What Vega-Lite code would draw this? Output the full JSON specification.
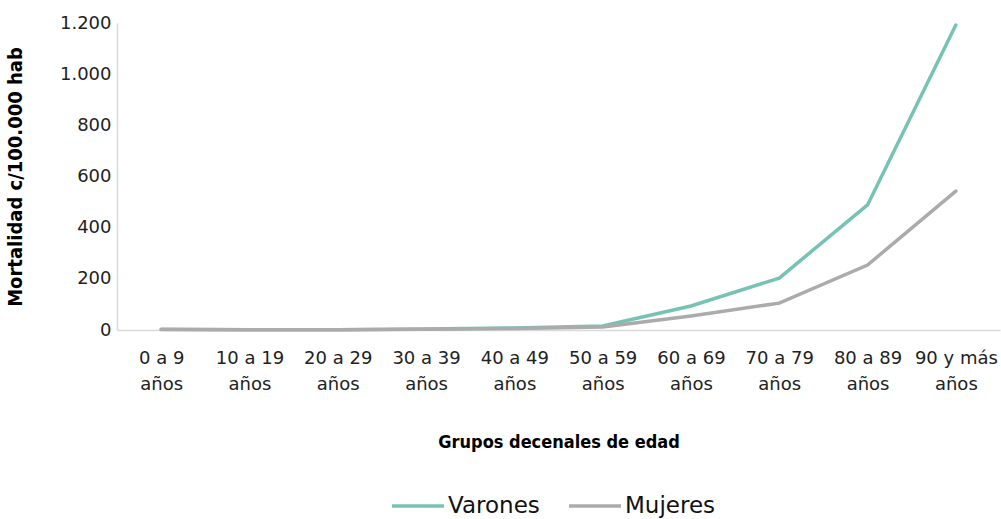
{
  "$schema": "https://vega.github.io/schema/vega-lite/v6.json",
  "width": 883,
  "height": 307,
  "autosize": "none",
  "padding": {"left": 117, "top": 23, "right": 1, "bottom": 189},
  "background": "white",
  "config": {
    "font": "DejaVu Sans",
    "view": {"stroke": null},
    "axis": {"labelFont": "DejaVu Sans", "labelColor": "#222", "titleColor": "#000"}
  },
  "data": {
    "values": [
      {"grupo": "0 a 9 años", "sexo": "Varones", "tasa": 3},
      {"grupo": "10 a 19 años", "sexo": "Varones", "tasa": 1},
      {"grupo": "20 a 29 años", "sexo": "Varones", "tasa": 1},
      {"grupo": "30 a 39 años", "sexo": "Varones", "tasa": 4},
      {"grupo": "40 a 49 años", "sexo": "Varones", "tasa": 8},
      {"grupo": "50 a 59 años", "sexo": "Varones", "tasa": 16},
      {"grupo": "60 a 69 años", "sexo": "Varones", "tasa": 94},
      {"grupo": "70 a 79 años", "sexo": "Varones", "tasa": 203},
      {"grupo": "80 a 89 años", "sexo": "Varones", "tasa": 489},
      {"grupo": "90 y más años", "sexo": "Varones", "tasa": 1192},
      {"grupo": "0 a 9 años", "sexo": "Mujeres", "tasa": 2},
      {"grupo": "10 a 19 años", "sexo": "Mujeres", "tasa": 1},
      {"grupo": "20 a 29 años", "sexo": "Mujeres", "tasa": 1},
      {"grupo": "30 a 39 años", "sexo": "Mujeres", "tasa": 3},
      {"grupo": "40 a 49 años", "sexo": "Mujeres", "tasa": 6},
      {"grupo": "50 a 59 años", "sexo": "Mujeres", "tasa": 12},
      {"grupo": "60 a 69 años", "sexo": "Mujeres", "tasa": 55},
      {"grupo": "70 a 79 años", "sexo": "Mujeres", "tasa": 105},
      {"grupo": "80 a 89 años", "sexo": "Mujeres", "tasa": 254},
      {"grupo": "90 y más años", "sexo": "Mujeres", "tasa": 543}
    ]
  },
  "mark": {"type": "line", "strokeWidth": 3.5, "strokeCap": "round"},
  "encoding": {
    "x": {
      "field": "grupo",
      "type": "nominal",
      "sort": null,
      "scale": {"type": "point", "padding": 0.5},
      "axis": {
        "title": "Grupos decenales de edad",
        "titleFont": "DejaVu Sans Condensed",
        "titleFontWeight": "bold",
        "titleFontSize": 18,
        "titlePadding": 40,
        "labelAngle": 0,
        "labelFontSize": 18,
        "labelLineHeight": 26,
        "labelPadding": 19,
        "labelExpr": "[slice(datum.label, 0, indexof(datum.label, ' años')), 'años']",
        "ticks": false,
        "grid": false,
        "domainColor": "#d9d9d9",
        "domainWidth": 1.5,
        "labelColor": "#222"
      }
    },
    "y": {
      "field": "tasa",
      "type": "quantitative",
      "scale": {"domain": [0, 1200], "nice": false},
      "axis": {
        "title": "Mortalidad c/100.000 hab",
        "titleFont": "DejaVu Sans Condensed",
        "titleFontWeight": "bold",
        "titleFontSize": 20,
        "titlePadding": 34,
        "values": [0, 200, 400, 600, 800, 1000, 1200],
        "labelExpr": "replace(format(datum.value, ',d'), ',', '.')",
        "labelFontSize": 18,
        "labelPadding": 6,
        "ticks": false,
        "grid": false,
        "domainColor": "#d9d9d9",
        "domainWidth": 1.5
      }
    },
    "color": {
      "field": "sexo",
      "type": "nominal",
      "sort": ["Varones", "Mujeres"],
      "scale": {"domain": ["Varones", "Mujeres"], "range": ["#76c3b6", "#ababab"]},
      "legend": {
        "title": null,
        "orient": "none",
        "direction": "horizontal",
        "legendX": 273,
        "legendY": 455,
        "symbolType": "stroke",
        "symbolSize": 2700,
        "symbolStrokeWidth": 3.5,
        "labelFont": "DejaVu Sans",
        "labelFontSize": 23,
        "labelColor": "#111",
        "labelOffset": 2,
        "columnPadding": 22
      }
    }
  }
}
